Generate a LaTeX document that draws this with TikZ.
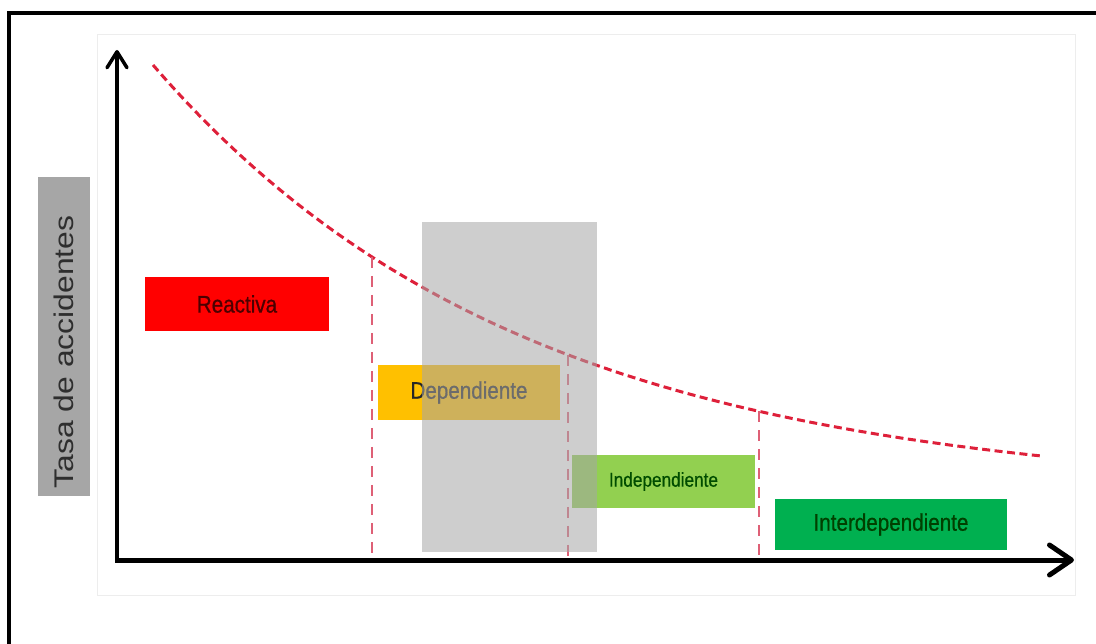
\documentclass[tikz,border=0pt]{standalone}
\usepackage{fontspec}
\setmainfont{Liberation Sans}
\newfontfamily\condfont[FakeStretch=0.86,FakeBold=0.6]{Liberation Sans}
\newfontfamily\longfont[FakeStretch=1.18]{Liberation Sans}
\usetikzlibrary{arrows.meta}
\definecolor{reactred}{HTML}{FF0000}
\definecolor{deporange}{HTML}{FFC000}
\definecolor{indgreen}{HTML}{92D050}
\definecolor{intgreen}{HTML}{00B050}
\definecolor{labelgray}{HTML}{A6A6A6}
\definecolor{bargray}{HTML}{A6A6A6}
\definecolor{curvered}{RGB}{222,32,58}
\definecolor{vdashred}{RGB}{222,96,118}
\definecolor{labeltext}{HTML}{2E2E2E}
\tikzset{
  stagebox/.style={draw=none, inner sep=0pt, minimum width=#1},
  stagetext/.style={font=\condfont\fontsize{24pt}{24pt}\selectfont},
  curveline/.style={draw=curvered, line width=3pt, dash pattern=on 8pt off 4.5pt},
  vdashline/.style={draw=vdashred, line width=2.6pt, dash pattern=on 11pt off 8pt},
  xaxisline/.style={draw=black, line width=5pt, -{Straight Barb[length=22pt,width=30pt,round]}},
  yaxisline/.style={draw=black, line width=3.5pt, -{Straight Barb[length=16pt,width=20pt,round]}},
}
\pgfmathdeclarefunction{rate}{1}{\pgfmathparse{65+430*(1-exp(-0.0027*(#1-153)))}}
\begin{document}
\begin{tikzpicture}[x=1pt,y=-1pt]
\useasboundingbox (0,0) rectangle (1096,644);
\clip (0,0) rectangle (1096,644);
% outer frame (left and top edges visible)
\draw[line width=3.5pt] (9,13) rectangle (1130,680);
% faint plot area frame
\draw[black!7, line width=1pt] (97,35) rectangle (1075,595);
% y label
\node[fill=labelgray, inner sep=0pt, minimum width=52pt, minimum height=319pt] (ylabelbox) at (64,336.5) {};
\node[rotate=90, inner sep=0pt, text=labeltext, font=\longfont\fontsize{27pt}{27pt}\selectfont] (ylabel) at (64,352) {Tasa de accidentes};
% stage boxes
\node[stagebox=184pt, minimum height=54pt, fill=reactred, stagetext, text=red!30!black] (reactiva) at (237,304) {Reactiva};
\node[stagebox=182pt, minimum height=55pt, fill=deporange, stagetext, text=black!85] (dependiente) at (469,392.5) {Dependiente};
\node[stagebox=183pt, minimum height=53pt, fill=indgreen, stagetext, font=\condfont\fontsize{20pt}{20pt}\selectfont, text=green!30!black] (independiente) at (663.5,481.5) {Independiente};
\node[stagebox=232pt, minimum height=51pt, fill=intgreen, stagetext, text=green!25!black] (interdependiente) at (891,524.5) {Interdependiente};
% curve
\draw[curveline] plot[domain=153:1040, samples=150, smooth] (\x, {rate(\x)});
% dashed verticals
\pgfmathsetmacro{\ya}{rate(372)}
\pgfmathsetmacro{\yb}{rate(568)}
\pgfmathsetmacro{\yc}{rate(759)}
\coordinate (topa) at (372,\ya);
\coordinate (bota) at (372,557);
\coordinate (topb) at (568,\yb);
\coordinate (botb) at (568,557);
\coordinate (topc) at (759,\yc);
\coordinate (botc) at (759,557);
\draw[vdashline] (topa) -- (bota);
\draw[vdashline] (topb) -- (botb);
\draw[vdashline] (topc) -- (botc);
% translucent gray bar
\node[fill=bargray, fill opacity=0.55, inner sep=0pt, minimum width=175pt, minimum height=330pt] (graybar) at (509.5,387) {};
% axes
\coordinate (ybase) at (117,562.5);
\coordinate (ytip) at (117,50);
\coordinate (xbase) at (115.5,560);
\coordinate (xtip) at (1074,560);
\draw[yaxisline] (ybase) -- (ytip);
\draw[xaxisline] (xbase) -- (xtip);
\end{tikzpicture}
\end{document}
